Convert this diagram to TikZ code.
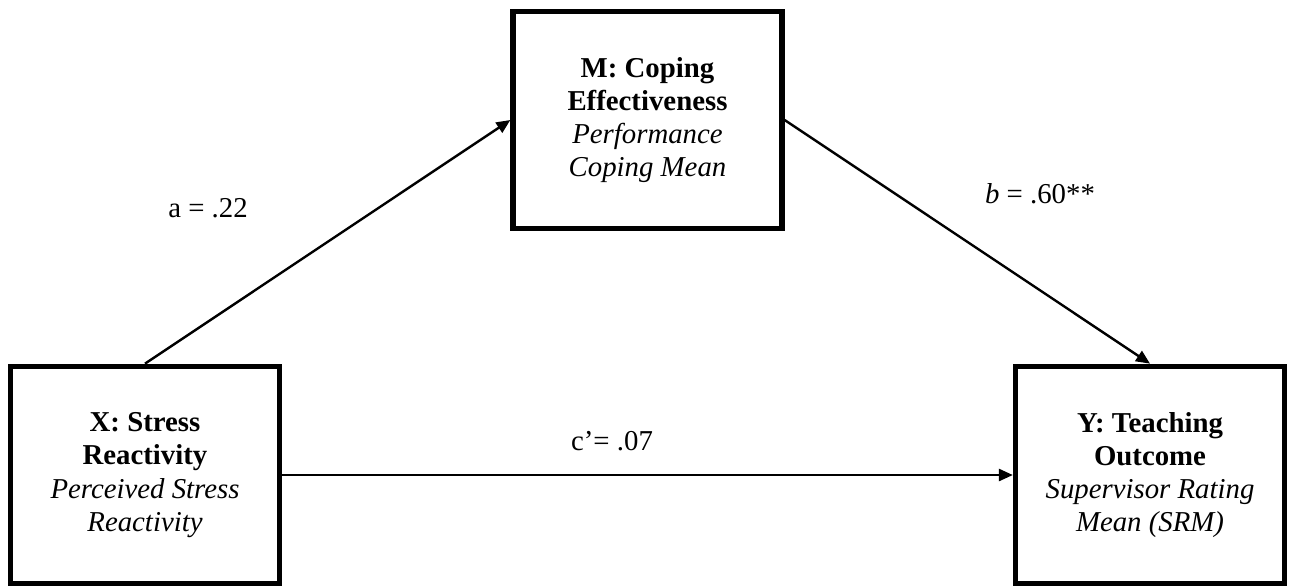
\documentclass[tikz,border=0pt]{standalone}
\usepackage{fontspec}
\setmainfont{Liberation Serif}
\usetikzlibrary{arrows.meta,positioning}
\begin{document}
\begin{tikzpicture}[x=0.4167pt,y=-0.4167pt,
  font=\fontsize{12pt}{13.8pt}\selectfont,
  varbox/.style={draw,line width=2.3pt,minimum width=112pt,minimum height=90.5pt,align=center,inner sep=0pt},
  effect/.style={-{Triangle[length=5.8pt,width=5pt]},line width=1pt},
  coef/.style={anchor=base}]
\useasboundingbox (0,0) rectangle (1290,586);
% variables
\node[varbox] (X) at (145,475) {\textbf{X: Stress}\\\textbf{Reactivity}\\\textit{Perceived Stress}\\\textit{Reactivity}};
\node[varbox] (M) at (647.5,120) {\textbf{M: Coping}\\\textbf{Effectiveness}\\\textit{Performance}\\\textit{Coping Mean}};
\node[varbox] (Y) at (1150,475) {\textbf{Y: Teaching}\\\textbf{Outcome}\\\textit{Supervisor Rating}\\\textit{Mean (SRM)}};
% paths
\draw[effect] (X.north) -- (M.west);
\draw[effect] (M.east) -- (Y.north);
\draw[effect] (X.east) -- (Y.west);
% coefficients
\node[coef] (pa) at (208,217) {a = .22};
\node[coef] (pb) at (1040,203) {\textit{b} = .60**};
\node[coef] (pc) at (612,450) {c’= .07};
\end{tikzpicture}
\end{document}
